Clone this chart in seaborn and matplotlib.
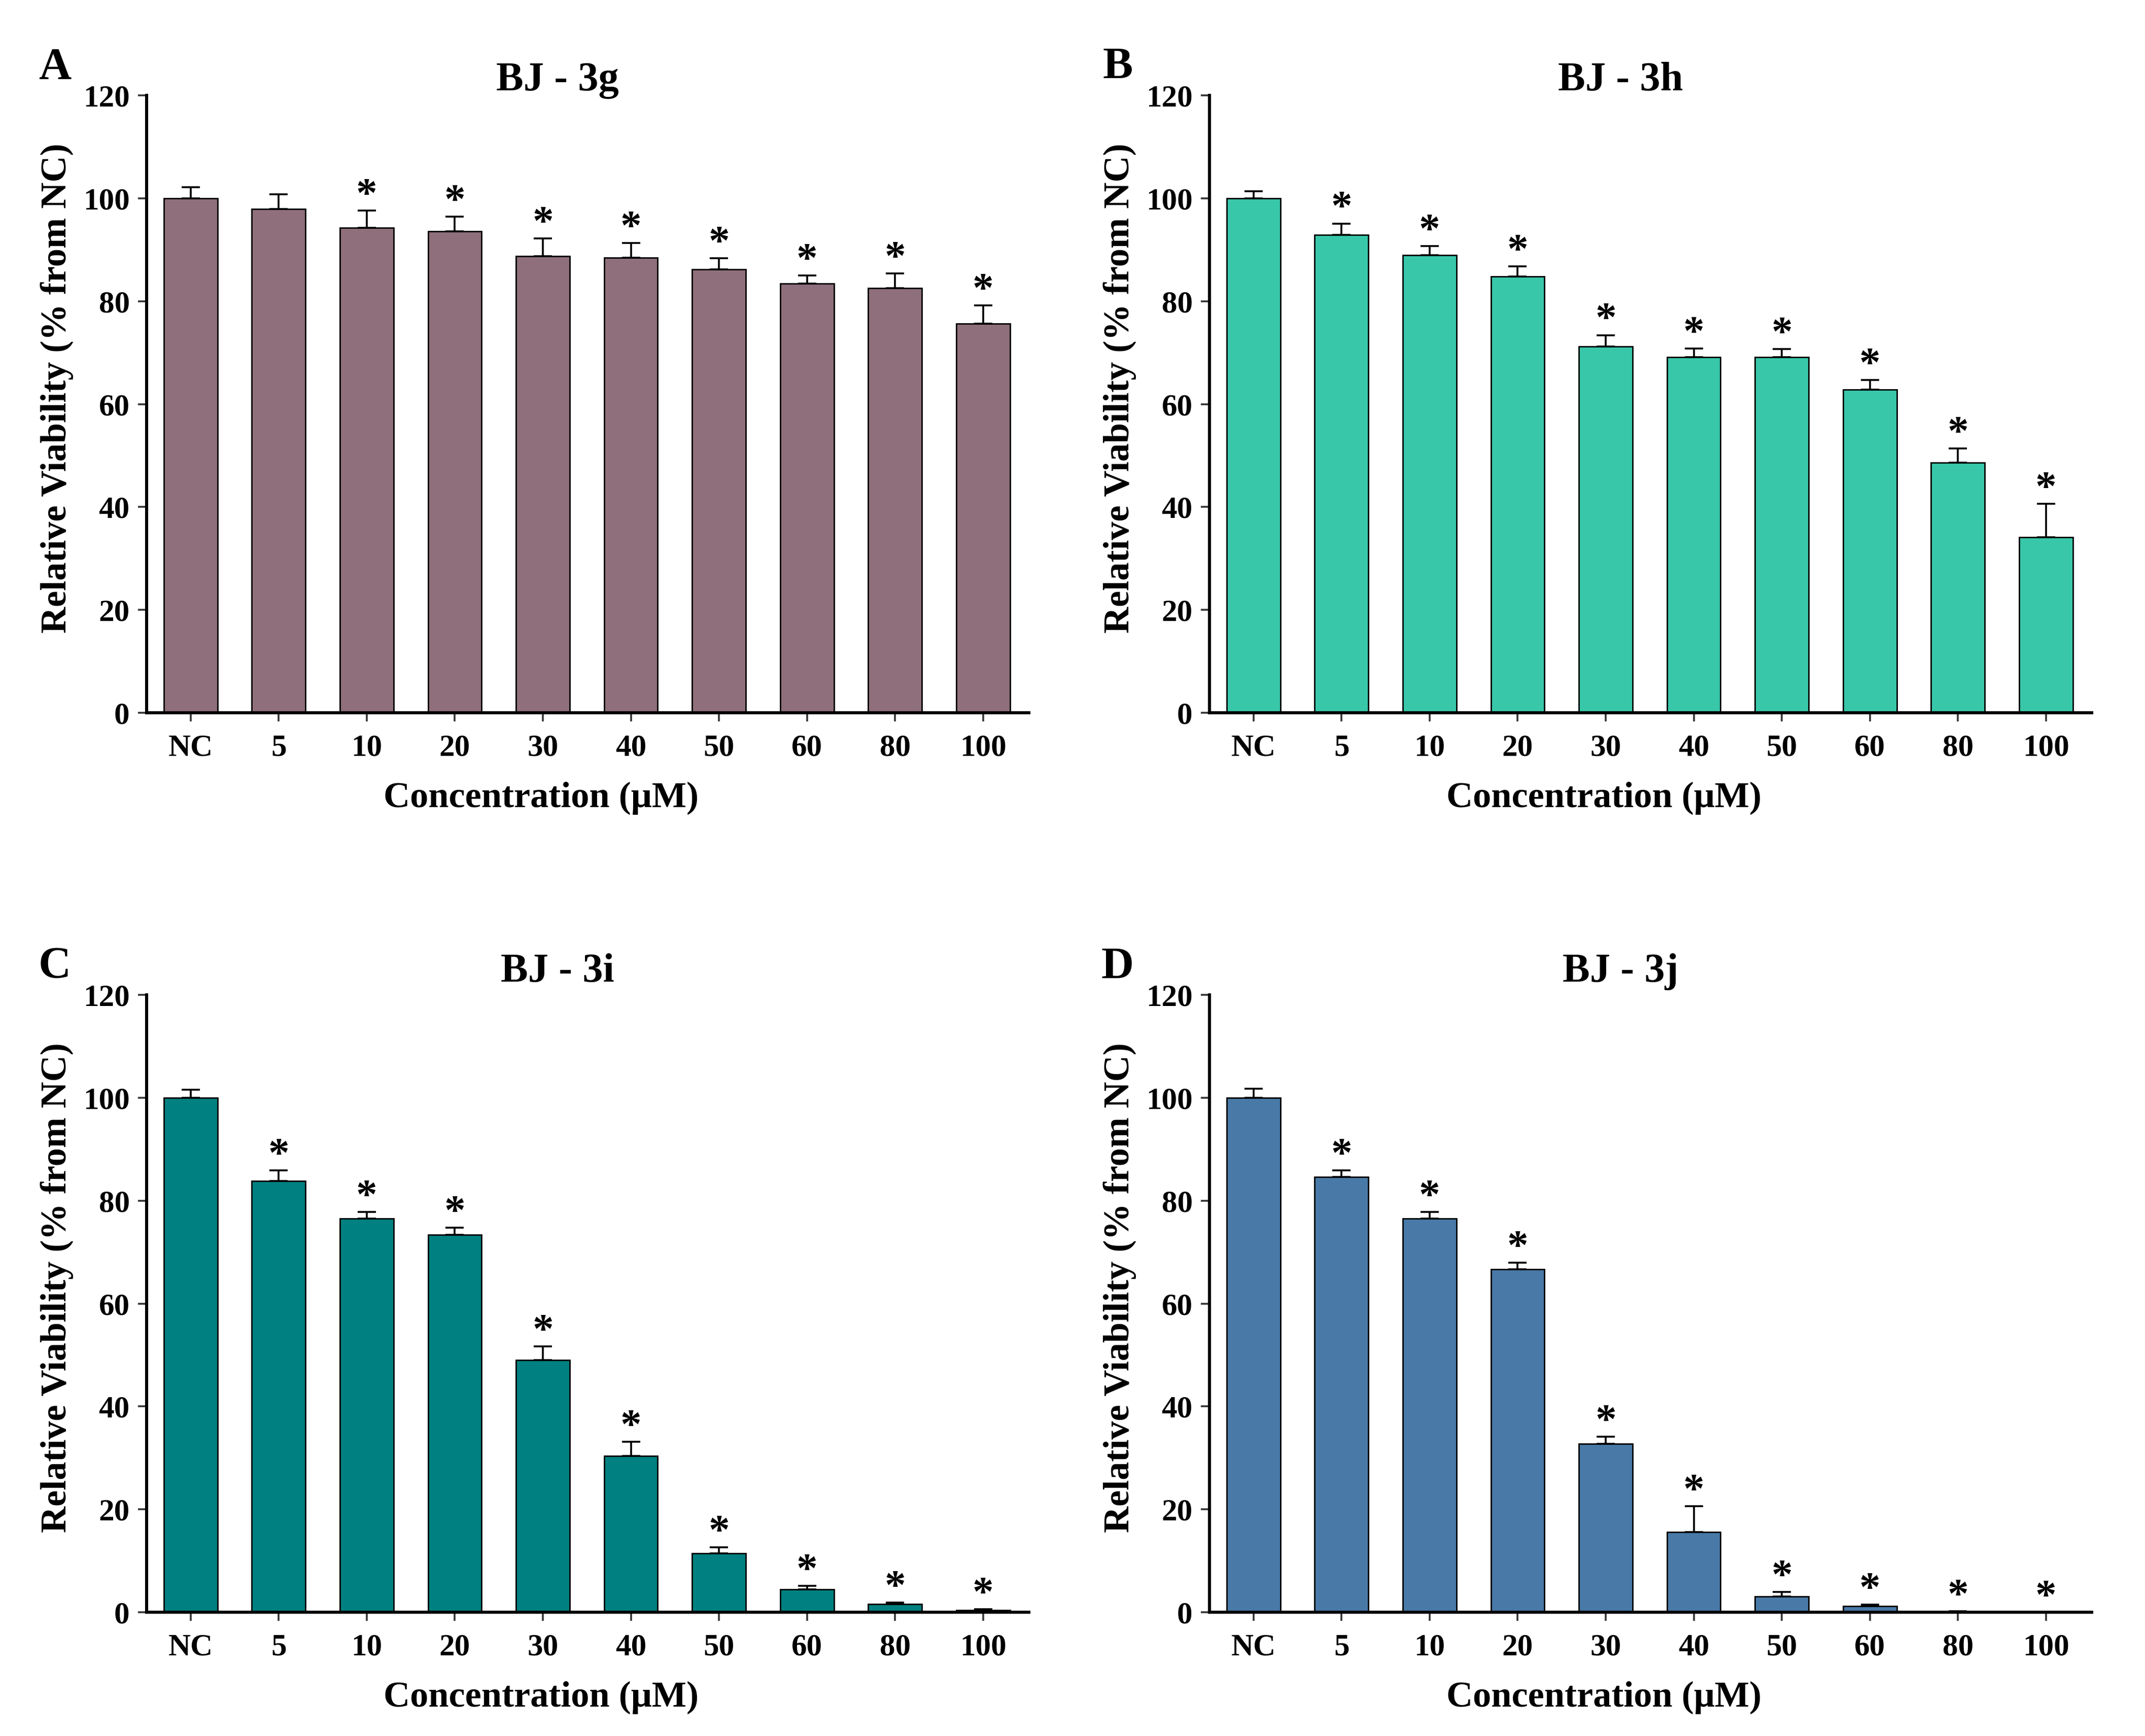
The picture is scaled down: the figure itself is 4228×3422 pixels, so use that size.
import matplotlib
matplotlib.use('Agg')
import matplotlib.pyplot as plt
import numpy as np
import pandas as pd
import seaborn as sns

# Data (mean and upper SD in % of NC)
concentrations = ['NC', '5', '10', '20', '30', '40', '50', '60', '80', '100']

via_3g = [100.0, 97.9, 94.3, 93.6, 88.7, 88.4, 86.2, 83.4, 82.5, 75.6]
err_3g = [2.2, 2.9, 3.3, 2.8, 3.5, 2.9, 2.1, 1.6, 2.9, 3.6]
sig_3g = [0, 0, 1, 1, 1, 1, 1, 1, 1, 1]

via_3h = [100.0, 92.9, 88.9, 84.8, 71.2, 69.1, 69.1, 62.8, 48.6, 34.1]
err_3h = [1.4, 2.2, 1.8, 2.0, 2.2, 1.7, 1.6, 1.9, 2.8, 6.5]
sig_3h = [0, 1, 1, 1, 1, 1, 1, 1, 1, 1]

via_3i = [100.0, 83.8, 76.5, 73.4, 49.0, 30.4, 11.4, 4.4, 1.6, 0.4]
err_3i = [1.6, 2.1, 1.3, 1.3, 2.7, 2.7, 1.2, 0.7, 0.3, 0.2]
sig_3i = [0, 1, 1, 1, 1, 1, 1, 1, 1, 1]

via_3j = [100.0, 84.6, 76.5, 66.7, 32.7, 15.6, 3.1, 1.2, 0.1, 0.0]
err_3j = [1.8, 1.3, 1.3, 1.2, 1.4, 5.0, 0.8, 0.3, 0.1, 0.0]
sig_3j = [0, 1, 1, 1, 1, 1, 1, 1, 1, 1]

panels = [
    ('A', 'BJ - 3g', via_3g, err_3g, sig_3g, '#8E6F7B'),
    ('B', 'BJ - 3h', via_3h, err_3h, sig_3h, '#38C7A9'),
    ('C', 'BJ - 3i', via_3i, err_3i, sig_3i, '#008080'),
    ('D', 'BJ - 3j', via_3j, err_3j, sig_3j, '#4979A6'),
]

sns.set_style('ticks')
plt.rcParams['font.family'] = ['Liberation Serif', 'DejaVu Serif']
plt.rcParams['font.weight'] = 'bold'
plt.rcParams['text.color'] = 'black'
plt.rcParams['axes.labelcolor'] = 'black'
plt.rcParams['xtick.labelcolor'] = 'black'
plt.rcParams['ytick.labelcolor'] = 'black'

W, H = 4228, 3422
fig = plt.figure(figsize=(W / 200, H / 200), dpi=200)

# axes boxes in pixels: left, top(120), width, height
boxes = [(289, 188), (2384, 188), (289, 1961), (2384, 1961)]
ax_w, ax_h = 1739, 1217
title_off = [30, 30, 45, 45]

for i, (letter, title, vals, errs, sig, color) in enumerate(panels):
    left, top = boxes[i]
    ax = fig.add_axes([left / W, 1 - (top + ax_h) / H, ax_w / W, ax_h / H])

    df = pd.DataFrame({'conc': concentrations, 'viability': vals})
    sns.barplot(data=df, x='conc', y='viability', color=color, width=0.61,
                edgecolor='black', linewidth=1.0, saturation=1, ax=ax)

    x = np.arange(len(concentrations))
    ax.errorbar(x, vals, yerr=[np.zeros(len(vals)), errs], fmt='none',
                ecolor='black', elinewidth=1.3, capsize=6.5, capthick=1.3, zorder=3)

    for xi, v, e, s in zip(x, vals, errs, sig):
        if s:
            ax.text(xi, v + e + 0.8, '*', ha='center', va='baseline',
                    fontsize=30, fontweight='bold', color='black')

    ax.set_ylim(0, 120)
    ax.set_yticks(range(0, 121, 20))
    ax.set_xlim(-0.5, 9.52)
    sns.despine(ax=ax)
    for sp in ['left', 'bottom']:
        ax.spines[sp].set_linewidth(2.2)
        ax.spines[sp].set_color('black')
    ax.tick_params(axis='both', direction='out', length=6, width=1.3,
                   labelsize=22, color='#333333', labelcolor='black')
    ax.tick_params(axis='x', pad=9)
    ax.tick_params(axis='y', pad=6)
    for lab in ax.get_xticklabels() + ax.get_yticklabels():
        lab.set_fontweight('bold')

    ax.set_xlabel('Concentration (μM)', fontsize=26, fontweight='bold', va='center')
    ax.set_ylabel('Relative Viability (% from NC)', fontsize=26, fontweight='bold', va='center')
    ax.xaxis.set_label_coords(0.447, -0.138)
    ax.yaxis.set_label_coords(-0.102, 0.526)

    ax.text(0.466, 1 + title_off[i] / ax_h, title, transform=ax.transAxes,
            ha='center', va='center', fontsize=29, fontweight='bold')
    fig.text((left - 181) / W, 1 - (top - 55) / H, letter, ha='center', va='center',
             fontsize=32, fontweight='bold')

fig.savefig('out.png', dpi=200, facecolor='white')
